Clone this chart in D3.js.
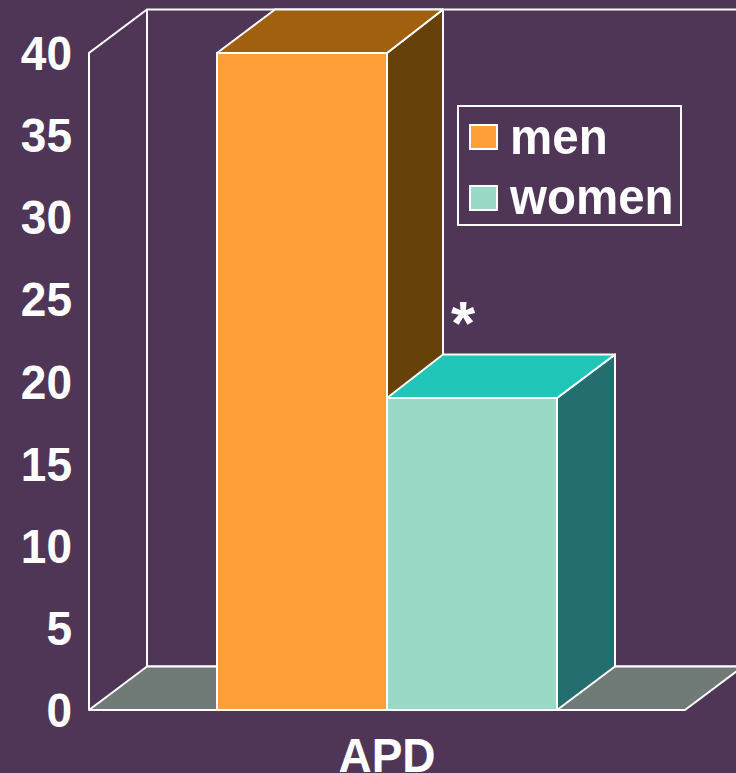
<!DOCTYPE html>
<html>
<head>
<meta charset="utf-8">
<script src="https://cdn.jsdelivr.net/npm/d3@7"></script>
<style>
  html, body { margin: 0; padding: 0; background: #4f3657; }
  svg { display: block; }
  text { font-family: "Liberation Sans", Arial, sans-serif; font-weight: bold; fill: #fff; }
</style>
</head>
<body>
<svg id="chart" width="736" height="773"></svg>
<script>
const categories = ["APD"];
const seriesNames = ["men", "women"];
const seriesValues = [40, 19];
const tickValues = [0, 5, 10, 15, 20, 25, 30, 35, 40];
const frontColors = ["#ff9f38", "#9bd9c7"];
const topColors = ["#a0600f", "#20c6b8"];
const sideColors = ["#66420a", "#256e70"];

const width = 736, height = 773;
const depthX = 58, depthY = 43.5; // the 3d offset of the back wall
const innerDepthX = 56; // the shared back edge of the two bars sits a bit further left
const textStretch = 1.06; // the original lettering is a little taller than Liberation
const lineColor = "#fff";

const svg = d3.select("#chart");

const y = d3.scaleLinear().domain([0, 40]).range([710, 53]);
const x = d3.scaleBand().domain(categories).range([89, 685]);
// bars take up 340 of the 596 wide category
const xBar = d3.scaleBand().domain(seriesNames)
  .range([x("APD") + 128, x("APD") + x.bandwidth() - 128]);

const line = d3.line();

function poly(points, fill) {
  svg.append("path")
    .attr("d", line(points) + "Z")
    .attr("fill", fill)
    .attr("stroke", lineColor)
    .attr("stroke-width", 2)
    .attr("stroke-linejoin", "round");
}

function stroke(points) {
  svg.append("path")
    .attr("d", line(points))
    .attr("fill", "none")
    .attr("stroke", lineColor)
    .attr("stroke-width", 2);
}

function label(str, px, py, size, anchor, stretch) {
  svg.append("text")
    .attr("transform", "translate(" + px + "," + py + ") scale(1," + stretch + ")")
    .attr("text-anchor", anchor)
    .attr("font-size", size)
    .text(str);
}

const x0 = x.range()[0], x1 = x.range()[1];
const y0 = y(0), yTop = y(40);

// walls
stroke([[x0, y0], [x0, yTop], [x0 + depthX, yTop - depthY], [width, yTop - depthY]]);
stroke([[x0 + depthX, yTop - depthY], [x0 + depthX, y0 - depthY]]);
stroke([[x0 + depthX, y0 - depthY], [width, y0 - depthY]]);

// floor
poly([[x0, y0], [x1, y0], [x1 + depthX, y0 - depthY], [x0 + depthX, y0 - depthY]], "#707b77");

// bars, men first so women sits in front of its side
seriesNames.forEach(function(name, i) {
  const left = xBar(name);
  const right = left + xBar.bandwidth();
  const top = y(seriesValues[i]);
  const backLeft = left + (i == 0 ? depthX : innerDepthX);
  const backRight = right + (i == 0 ? innerDepthX : depthX);
  poly([[right, top], [backRight, top - depthY], [backRight, y0 - depthY], [right, y0]], sideColors[i]);
  poly([[left, top], [right, top], [backRight, top - depthY], [backLeft, top - depthY]], topColors[i]);
  poly([[left, top], [right, top], [right, y0], [left, y0]], frontColors[i]);
});

// y axis labels
const axis = d3.axisLeft(y).tickValues(tickValues).tickSize(0).tickPadding(0);
const axisG = svg.append("g").attr("transform", "translate(72,1)").call(axis);
axisG.select(".domain").remove();
axisG.selectAll("text")
  .attr("font-size", 46)
  .attr("transform", "scale(1," + textStretch + ")")
  .style("font-family", "Liberation Sans")
  .attr("fill", "#fff");

// category label
label(categories[0], x("APD") + x.bandwidth() / 2, 772, 46, "middle", textStretch);

// significance mark
label("*", 463, 344, 62, "middle", 1);

// legend
svg.append("rect")
  .attr("x", 458).attr("y", 106).attr("width", 223).attr("height", 119)
  .attr("fill", "none").attr("stroke", lineColor).attr("stroke-width", 2);

const legendSwatchY = [125, 186];
const legendTextY = [154, 214];
seriesNames.forEach(function(name, i) {
  svg.append("rect")
    .attr("x", 470).attr("y", legendSwatchY[i]).attr("width", 27).attr("height", 24)
    .attr("fill", frontColors[i]).attr("stroke", lineColor).attr("stroke-width", 2);
  label(name, 510, legendTextY[i], 47.5, "start", textStretch);
});
</script>
</body>
</html>
